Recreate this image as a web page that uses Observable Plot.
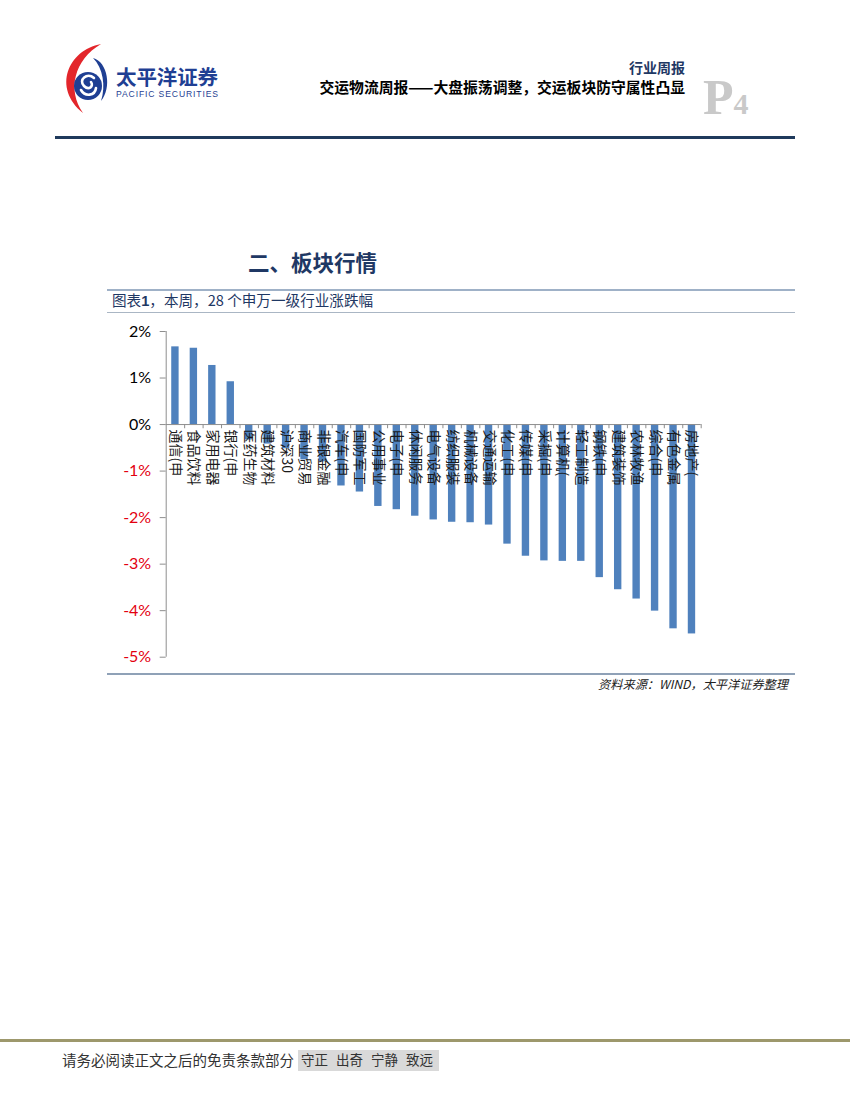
<!DOCTYPE html>
<html><head><meta charset="utf-8">
<script src="https://cdn.jsdelivr.net/npm/d3@7"></script>
<script src="https://cdn.jsdelivr.net/npm/@observablehq/plot@0.6"></script>
<style>
body{margin:0;background:#fff;}
#page{position:relative;width:850px;height:1100px;overflow:hidden;background:#fff;font-family:"Noto Sans CJK SC",sans-serif;}
.abs{position:absolute;white-space:nowrap;line-height:1;}
#chart{position:absolute;left:100px;top:315px;}
</style></head><body><div id="page">
<svg class="abs" style="left:0;top:0" width="240" height="120">
  <path d="M101 44 C68 50 52 88 83 113 C67 90 74 60 101 44 Z" fill="#e3262b"/>
  <path d="M93 58 C108 62 112 88 101 101 C106 86 103 68 93 58 Z" fill="#1f3f93"/>
  <circle cx="88" cy="86" r="14" fill="#1f3f93"/>
  <path d="M94 78 C87 72 78 80 84 86 C89 91 94 86 91 82 M81 90 C85 97 95 96 96 88" stroke="#fff" stroke-width="2.6" fill="none" stroke-linecap="round"/>
  <text x="116" y="85" font-family="Noto Sans CJK SC" font-weight="bold" font-size="20.5" fill="#1f3f93" textLength="102">太平洋证券</text>
  <text x="116" y="97" font-family="Liberation Sans" font-size="8.6" fill="#1f3f93" textLength="102">PACIFIC SECURITIES</text>
</svg>
<div class="abs" style="right:165px;top:60px;font-size:14px;font-weight:bold;color:#1f3864">行业周报</div>
<div class="abs" style="right:165px;top:80px;font-size:14.8px;font-weight:bold;color:#000">交运物流周报——大盘振荡调整，交运板块防守属性凸显</div>
<div class="abs" style="left:703px;top:72px;font-family:'Liberation Serif',serif;font-weight:bold;color:#c9c9c9"><span style="font-size:50px">P</span><span style="font-size:30px">4</span></div>
<div class="abs" style="left:55px;top:136px;width:740px;height:3px;background:#1f3a5c"></div>
<div class="abs" style="left:248px;top:251px;font-size:21.5px;font-weight:bold;color:#1f3864">二、板块行情</div>
<div class="abs" style="left:107px;top:289px;width:688px;height:1.5px;background:#9fb1c7"></div>
<div class="abs" style="left:112px;top:293px;font-size:14.6px;color:#1f3864">图表<b style="font-family:'Liberation Sans'">1</b>，本周，28 个申万一级行业涨跌幅</div>
<div class="abs" style="left:107px;top:312px;width:688px;height:1px;background:#aab6c4"></div>
<div class="abs" style="left:107px;top:673px;width:688px;height:1.5px;background:#8fa1b7"></div>
<div class="abs" style="right:62px;top:678px;font-size:12.2px;font-style:italic;color:#222">资料来源：WIND，太平洋证券整理</div>
<div class="abs" style="left:0;top:1039px;width:850px;height:3px;background:#9d986c"></div>
<div class="abs" style="left:62px;top:1053px;font-size:14.5px;color:#333">请务必阅读正文之后的免责条款部分</div>
<div class="abs" style="left:298px;top:1050px;width:141px;height:21px;background:#d9d9d9"></div>
<div class="abs" style="left:301px;top:1053px;font-size:13.5px;word-spacing:5px;color:#333">守正 出奇 宁静 致远</div>
<div id="chart"></div>
</div>
<script>
const categories = ["通信(申","食品饮料","家用电器","银行(申","医药生物","建筑材料","沪深30","商业贸易","非银金融","汽车(申","国防军工","公用事业","电子(申","休闲服务","电气设备","纺织服装","机械设备","交通运输","化工(申","传媒(申","采掘(申","计算机(","轻工制造","钢铁(申","建筑装饰","农林牧渔","综合(申","有色金属","房地产("];
const values = [1.67,1.64,1.27,0.92,-0.33,-0.42,-0.52,-0.76,-0.8,-1.32,-1.45,-1.76,-1.83,-1.97,-2.05,-2.1,-2.11,-2.16,-2.57,-2.83,-2.93,-2.94,-2.94,-3.29,-3.55,-3.75,-4.01,-4.39,-4.5];
const yTicks = [2,1,0,-1,-2,-3,-4,-5];

const W = 620, H = 360, ML = 65.7, MR = 19.3, MT = 16, MB = 18.3;
const step = (W - ML - MR) / categories.length;
const data = categories.map((c, i) => ({name: c, value: values[i]}));
const axisColor = "#8e8e8e";
const chart = Plot.plot({
  width: W, height: H,
  marginLeft: ML, marginRight: MR, marginTop: MT, marginBottom: MB,
  style: {background: "transparent", overflow: "visible", fontFamily: "Noto Sans CJK SC"},
  x: {type: "band", domain: categories, paddingInner: 0.6, paddingOuter: 0.3, round: false, axis: null},
  y: {domain: [-5, 2], label: null},
  marks: [
    Plot.barY(data, {x: "name", y: "value", fill: "#4F81BD"}),
    Plot.ruleY([0], {stroke: axisColor}),
    Plot.ruleX([categories[0]], {x: d => d, y1: -5, y2: 2, dx: -step / 2, stroke: axisColor}),
    Plot.ruleX(categories, {x: d => d, y1: 0, y2: -0.09, dx: step / 2, stroke: axisColor}),
    Plot.axisY({ticks: yTicks, tickSize: 6, tickFormat: () => "", label: null, stroke: axisColor}),
    Plot.text(yTicks.filter(d => d >= 0), {y: d => d, text: d => d + "%", frameAnchor: "left", textAnchor: "end", dx: -15, fill: "#000", fontSize: 16, fontFamily: "Lato"}),
    Plot.text(yTicks.filter(d => d < 0), {y: d => d, text: d => d + "%", frameAnchor: "left", textAnchor: "end", dx: -15, fill: "#e3000f", fontSize: 16, fontFamily: "Lato"}),
    Plot.text(data, {x: "name", y: () => 0, text: "name", rotate: 90, textAnchor: "start", dy: 5, fontSize: 14, fill: "#1a1a1a", fontFamily: "Noto Sans CJK SC"})
  ]
});
document.getElementById("chart").appendChild(chart);
</script>
</body></html>
